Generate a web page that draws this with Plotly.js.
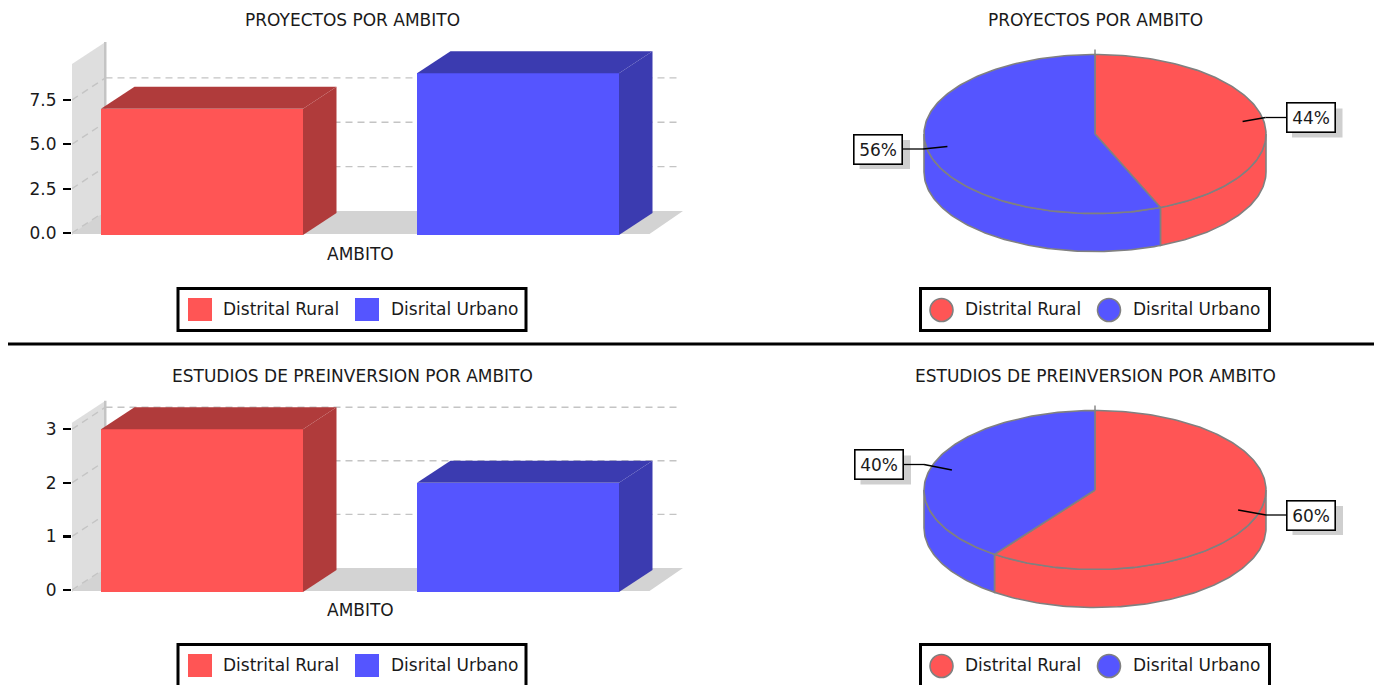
<!DOCTYPE html>
<html><head><meta charset="utf-8">
<script src="https://cdn.plot.ly/plotly-3.0.1.min.js"></script>
<style>html,body{margin:0;padding:0;background:#fff;overflow:hidden}#c{width:1374px;height:685px}</style>
</head><body><div id="c"></div>
<script>
// ---- data ----
const categories = ["Distrital Rural", "Disrital Urbano"];
const proyectos = [7, 9];
const estudios = [3, 2];
const ticksProyectos = [0, 2.5, 5, 7.5];
const ticksEstudios = [0, 1, 2, 3];
const tickTextProyectos = ["0.0", "2.5", "5.0", "7.5"];
const tickTextEstudios = ["0", "1", "2", "3"];
const titleProyectos = "PROYECTOS POR AMBITO";
const titleEstudios = "ESTUDIOS DE PREINVERSION POR AMBITO";
const xTitle = "AMBITO";
const colors = ["#FF5555", "#5555FF"];
const darkColors = ["#B03B3B", "#3B3BB0"];

// ---- layout constants (pixels of the 1374x685 page) ----
const W = 1374, H = 685, FS = 17, FONT = "DejaVu Sans, sans-serif", INK = "#1a1a1a";
const px = x => x / W, py = y => 1 - y / H;
const ROW = 356, DX = 33.5, DY = 22;
const traces = [], shapes = [], annotations = [];
const layout = {width: W, height: H, margin: {l: 0, r: 0, t: 0, b: 0}, paper_bgcolor: "#fff",
  plot_bgcolor: "rgba(0,0,0,0)", showlegend: false, shapes, annotations, bargap: 0};

function label(text, x, y, anchor, size) {
  annotations.push({xref: "paper", yref: "paper", x: px(x), y: py(y), text, showarrow: false,
    xanchor: anchor || "center", yanchor: "middle", font: {family: FONT, size: size || FS, color: INK}});
}
function legendBox(x0, x1, off) {
  shapes.push({type: "rect", xref: "paper", yref: "paper", x0: px(x0), x1: px(x1), y0: py(288.5 + off), y1: py(330.5 + off),
    line: {color: "#000", width: 3}, fillcolor: "#fff", layer: "below"});
}

function barPanel(idx, values, ticks, tickText, names, title, off, zeroPx, unitPx, axisMax) {
  const xa = "x" + (idx === 1 ? "" : idx), ya = "y" + (idx === 1 ? "" : idx);
  const L = 72, R = 685, T = 36 + off, B = 241 + off, c0 = 202, step = 316, bw = 202 / 316;
  layout["xaxis" + (idx === 1 ? "" : idx)] = {domain: [px(L), px(R)], range: [(L - c0) / step, (R - c0) / step],
    anchor: ya, showgrid: false, zeroline: false, showline: false, showticklabels: false, ticks: "", fixedrange: true};
  layout["yaxis" + (idx === 1 ? "" : idx)] = {domain: [py(B), py(T)], range: [(zeroPx - B) / unitPx, (zeroPx - T) / unitPx],
    anchor: xa, showgrid: false, zeroline: false, showline: false, tickmode: "array", tickvals: ticks, ticktext: tickText,
    ticks: "outside", ticklen: 8, tickwidth: 2.2, tickcolor: "#000", ticklabelstandoff: 3,
    tickfont: {family: FONT, size: FS, color: INK}, fixedrange: true};
  const dx = DX / step, dy = DY / unitPx, skirt = 2 / unitPx;
  const wallL = (L - c0) / step, floorR = (683 - c0) / step;
  const poly = (pts, fill) => shapes.push({type: "path", xref: xa, yref: ya, layer: "below", fillcolor: fill, line: {width: 0},
    path: "M" + pts.map(p => p[0] + " " + p[1]).join("L") + "Z"});
  // wall and floor
  poly([[wallL, -skirt], [wallL, axisMax], [wallL + dx, axisMax + dy], [wallL + dx, dy]], "#DEDEDE");
  poly([[wallL + dx - 1.5 / step, dy], [wallL + dx - 1.5 / step, axisMax + dy], [wallL + dx + 1 / step, axisMax + dy], [wallL + dx + 1 / step, dy]], "#C4C4C4");
  poly([[wallL, -skirt / 2], [wallL + dx, dy], [floorR, dy], [floorR - dx, -skirt / 2]], "#D3D3D3");
  // back and wall gridlines
  const gridStyle = {color: "#C4C4C4", width: 1.4, dash: "7px,5px"};
  ticks.forEach((t, i) => {
    if (i > 0) shapes.push({type: "line", xref: xa, yref: ya, layer: "below", x0: wallL + dx, x1: (680 - c0) / step, y0: t + dy, y1: t + dy, line: gridStyle});
    shapes.push({type: "line", xref: xa, yref: ya, layer: "below", x0: wallL, x1: wallL + dx, y0: t, y1: t + dy, line: gridStyle});
  });
  // bars with their 3D faces, all derived from the values
  values.forEach((v, i) => {
    const a = i - bw / 2, b = i + bw / 2;
    traces.push({type: "bar", x: [i], y: [v], width: [bw], name: names[i], marker: {color: colors[i], line: {width: 0}},
      xaxis: xa, yaxis: ya, hoverinfo: "name+y"});
    const face = (xs, ys, col) => traces.push({type: "scatter", mode: "lines", x: xs, y: ys, fill: "toself", fillcolor: col,
      line: {width: 0, color: col}, xaxis: xa, yaxis: ya, hoverinfo: "skip"});
    face([a, b, b, a, a], [0, 0, -skirt, -skirt, 0], colors[i]);
    face([a, a + dx, b + dx, b, a], [v, v + dy, v + dy, v, v], darkColors[i]);
    face([b, b + dx, b + dx, b, b], [-skirt, dy - skirt, v + dy, v, -skirt], darkColors[i]);
  });
  label(title, 352, 20 + off);
  label(xTitle, 360, 254 + off);
  legendBox(178, 526, off);
  [188, 355].forEach((x, i) => {
    shapes.push({type: "rect", xref: "paper", yref: "paper", x0: px(x), x1: px(x + 24), y0: py(298 + off), y1: py(321 + off),
      fillcolor: colors[i], line: {width: 0}});
    label(names[i], [220.5, 388.5][i], 309 + off, "left");
  });
}

function piePanel(idx, values, names, title, off, boxes) {
  const xn = idx, xa = "x" + xn, ya = "y" + xn;
  const CX = 1095, CY = 134 + off, RX = 171, RY = 79.5, DEPTH = 38;
  const L = 840, R = 1350, T = 40 + off, B = 262 + off;
  layout["xaxis" + xn] = {domain: [px(L), px(R)], range: [L - CX, R - CX], anchor: ya, visible: false, fixedrange: true};
  layout["yaxis" + xn] = {domain: [py(B), py(T)], range: [CY - B, CY - T], anchor: xa, visible: false, fixedrange: true};
  const total = values.reduce((s, v) => s + v, 0);
  const ex = t => RX * Math.sin(t), ey = t => RY * Math.cos(t);
  const arc = (a, b) => { const n = Math.max(2, Math.ceil((b - a) / 0.02)), o = [];
    for (let k = 0; k <= n; k++) o.push(a + (b - a) * k / n); return o; };
  const area = (xs, ys, col) => traces.push({type: "scatter", mode: "lines", x: xs, y: ys, fill: "toself", fillcolor: col,
    line: {color: "#808080", width: 1.6}, xaxis: xa, yaxis: ya, hoverinfo: "skip"});
  let start = 0;
  const spans = values.map(v => { const s = [start, start + v / total * 2 * Math.PI]; start = s[1]; return s; });
  // extruded side: only the front half of the rim is seen
  spans.forEach((s, i) => {
    const a = Math.max(s[0], Math.PI / 2), b = Math.min(s[1], 3 * Math.PI / 2);
    if (b <= a) return;
    const t = arc(a, b), back = t.slice().reverse();
    area(t.map(ex).concat(back.map(ex), [ex(a)]), t.map(ey).concat(back.map(q => ey(q) - DEPTH), [ey(a)]), colors[i]);
  });
  // top faces
  spans.forEach((s, i) => {
    const t = arc(s[0], s[1]);
    area([0].concat(t.map(ex), [0]), [0].concat(t.map(ey), [0]), colors[i]);
  });
  // small stub of the first slice edge above the rim
  traces.push({type: "scatter", mode: "lines", x: [0, 0], y: [RY - 2, RY + 5], line: {color: "#808080", width: 1.4}, xaxis: xa, yaxis: ya, hoverinfo: "skip"});
  // labels with leader lines
  spans.forEach((s, i) => {
    const m = (s[0] + s[1]) / 2, b = boxes[i], side = Math.sin(m) > 0 ? 1 : -1;
    const bx = b[0] - CX, by = CY - b[1], edge = bx - side * 24, elbow = edge - side * 21;
    const tipX = 0.88 * ex(m), tipY = 0.88 * ey(m) * 0.92;
    traces.push({type: "scatter", mode: "lines", x: [elbow, edge], y: [by, by],
      line: {color: "#000", width: 1.3}, xaxis: xa, yaxis: ya, hoverinfo: "skip"});
    traces.push({type: "scatter", mode: "lines", x: [tipX, elbow], y: [tipY, by],
      line: {color: "#000", width: 1.5}, xaxis: xa, yaxis: ya, hoverinfo: "skip"});
    shapes.push({type: "rect", xref: xa, yref: ya, layer: "below", x0: bx - 18.5, x1: bx + 32, y0: by - 20, y1: by + 9,
      fillcolor: "#CFCFCF", line: {width: 0}});
    annotations.push({xref: xa, yref: ya, x: bx, y: by, text: Math.round(values[i] / total * 100) + "%", showarrow: false,
      width: 47, height: 28, borderwidth: 1.6, borderpad: 0, bordercolor: "#000", bgcolor: "#fff", align: "center", valign: "middle",
      font: {family: FONT, size: FS, color: INK}});
  });
  label(title, 1095, 20 + off);
  legendBox(920.5, 1269.5, off);
  [941.5, 1109].forEach((x, i) => {
    shapes.push({type: "circle", xref: "paper", yref: "paper", x0: px(x - 11.5), x1: px(x + 11.5), y0: py(298.5 + off), y1: py(321.5 + off),
      fillcolor: colors[i], line: {color: "#808080", width: 1.6}});
    label(names[i], [962.5, 1130.5][i], 309 + off, "left");
  });
}

barPanel(1, proyectos, ticksProyectos, tickTextProyectos, categories, titleProyectos, 0, 233, 17.75, 9.52);
piePanel(2, proyectos, categories, titleProyectos, 0, [[1310.5, 117.5], [878, 149]]);
barPanel(3, estudios, ticksEstudios, tickTextEstudios, categories, titleEstudios, ROW, 590, 53.6, 3.12);
piePanel(4, estudios, categories, titleEstudios, ROW, [[1311, 515], [879, 464.5]]);

// separator between the two rows
shapes.push({type: "line", xref: "paper", yref: "paper", x0: px(8), x1: 1, y0: py(344), y1: py(344), line: {color: "#000", width: 3}});

Plotly.newPlot("c", traces, layout, {displayModeBar: false, staticPlot: true});
</script></body></html>
